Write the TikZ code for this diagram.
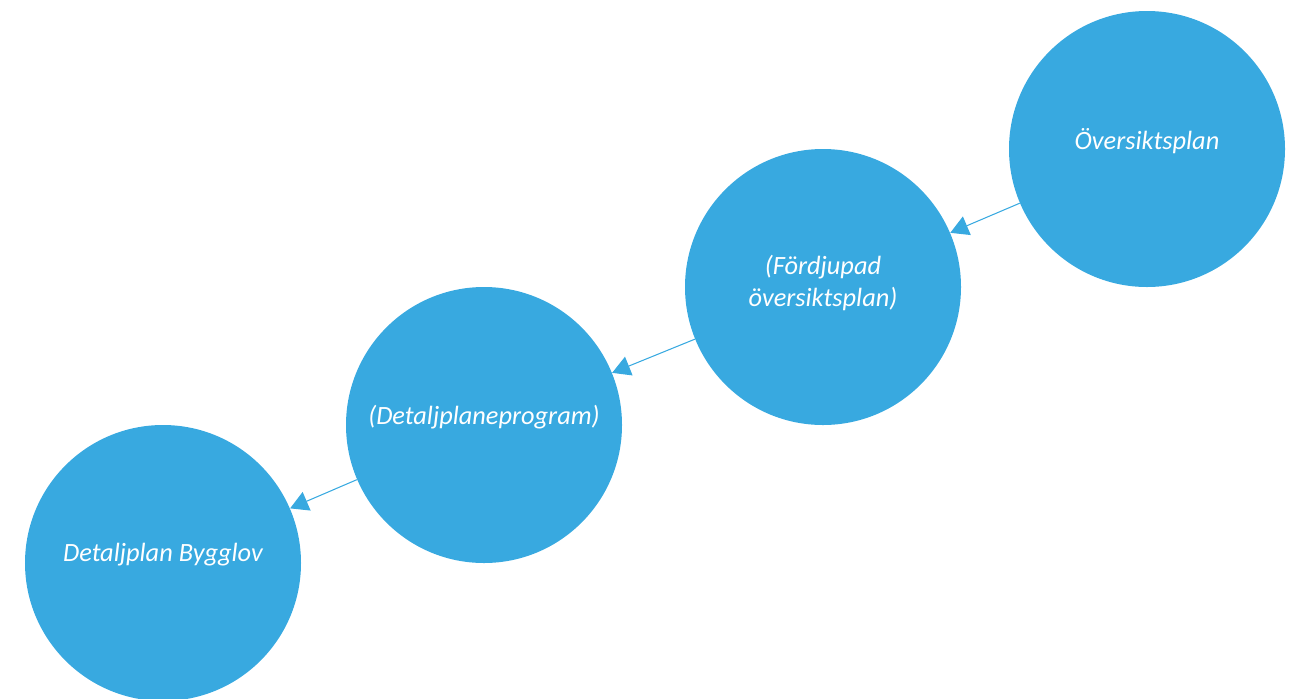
\documentclass[tikz,border=0pt]{standalone}
\usepackage{fontspec}
\setmainfont{Carlito}
\usetikzlibrary{arrows.meta}
\definecolor{planblue}{HTML}{38A9E0}

\begin{document}
\begin{tikzpicture}[
	stage/.style={circle, fill=planblue, minimum size=5.52cm, inner sep=0pt},
	stagetext/.style={text=white, font=\fontsize{15}{18.7}\selectfont\itshape, align=center, yshift=0.16cm},
	flow/.style={draw=planblue, line width=0.6pt, -{Triangle[length=3.6mm,width=4mm]}}
	]
	\clip (0,0) rectangle (25.92,-13.96);
	\node[stage, label={[stagetext]center:Översiktsplan}] (ovp) at (22.94,-2.98) {};
	\node[stage, label={[stagetext, yshift=-0.08cm]center:(Fördjupad\\översiktsplan)}] (fop) at (16.46,-5.74) {};
	\node[stage, label={[stagetext]center:(Detaljplaneprogram)}] (dpp) at (9.68,-8.50) {};
	\node[stage, label={[stagetext]center:Detaljplan Bygglov}] (dpb) at (3.26,-11.26) {};
	\draw[flow] (ovp) -- (fop);
	\draw[flow] (fop) -- (dpp);
	\draw[flow] (dpp) -- (dpb);
\end{tikzpicture}
\end{document}
